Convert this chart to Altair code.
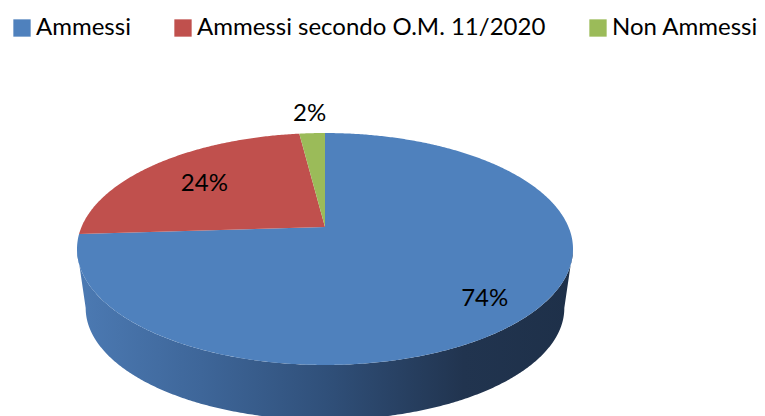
import numpy as np
import pandas as pd
import altair as alt

# ---- data ----
categories = ["Ammessi", "Ammessi secondo O.M. 11/2020", "Non Ammessi"]
percentages = [74, 24, 2]
colors = ["#4F81BD", "#C0504D", "#9BBB59"]

# ---- 3D pie projection settings (layout, not data) ----
CX, CY = 325.0, 227.0      # projected centre of the top face
AX, BY = 243.5, 111.8      # horizontal / vertical semi-axes
K = 0.1896                 # perspective strength
S_BOT = 0.965              # bottom face scale
TOP_EY, BOT_EY = 249.0, 308.0


def project(phi_deg, r=1.0):
    phi = np.radians(phi_deg)
    u = r * np.sin(phi)
    v = r * np.cos(phi)
    w = 1 + K * v
    return CX + AX * u / w, CY - BY * v / w


def bottom(x, y):
    return CX + S_BOT * (x - CX), BOT_EY + S_BOT * (y - TOP_EY)


# slices of the top face
rows = []
start = 0.0
total = float(sum(percentages))
for cat, val in zip(categories, percentages):
    a0 = start
    a1 = start + 360.0 * val / total
    angles = np.linspace(a0, a1, max(3, int((a1 - a0) / 0.5) + 2))
    i = 0
    rows.append({"cat": cat, "i": i, "x": CX, "y": CY}); i += 1
    for a in angles:
        x, y = project(a)
        rows.append({"cat": cat, "i": i, "x": x, "y": y}); i += 1
    rows.append({"cat": cat, "i": i, "x": CX, "y": CY})
    start = a1
slices = pd.DataFrame(rows)

# front wall of the cylinder
t0 = np.degrees(np.arccos(-K))
t1 = 360.0 - t0
side_angles = np.linspace(t0, t1, 320)
side_rows = []
i = 0
for a in side_angles:
    x, y = project(a)
    side_rows.append({"i": i, "x": x, "y": y}); i += 1
for a in side_angles[::-1]:
    x, y = bottom(*project(a))
    side_rows.append({"i": i, "x": x, "y": y}); i += 1
side = pd.DataFrame(side_rows)

# labels
lab_rows = []
start = 0.0
for cat, val in zip(categories, percentages):
    a1 = start + 360.0 * val / total
    mid = (start + a1) / 2
    outside = val < 5
    r = 1.25 if outside else 0.76
    x, y = project(mid, r)
    lab_rows.append({"cat": cat, "label": f"{val}%", "x": x, "y": y,
                     "pos": "out" if outside else "in"})
    start = a1
labels = pd.DataFrame(lab_rows)

H = 408
xs = alt.Scale(domain=[8, 757], nice=False, zero=False)
ys = alt.Scale(domain=[8 + H, 8], nice=False, zero=False)
X = alt.X("x:Q", scale=xs, axis=None)
Y = alt.Y("y:Q", scale=ys, axis=None)

side_fill = alt.LinearGradient(
    gradient="linear",
    stops=[
        alt.GradientStop(color="#4C7AB3", offset=0),
        alt.GradientStop(color="#3E6699", offset=0.25),
        alt.GradientStop(color="#30507A", offset=0.5),
        alt.GradientStop(color="#21344F", offset=0.78),
        alt.GradientStop(color="#1E3049", offset=1),
    ],
    x1=0, x2=1, y1=0, y2=0,
)

side_layer = alt.Chart(side).mark_line(filled=True, fill=side_fill, strokeWidth=0).encode(
    x=X, y=Y, order=alt.Order("i:Q")
)

slice_layer = alt.Chart(slices).mark_line(filled=True).encode(
    x=X, y=Y, order=alt.Order("i:Q"),
    color=alt.Color(
        "cat:N",
        scale=alt.Scale(domain=categories, range=colors),
        sort=categories,
        legend=alt.Legend(
            title=None, orient="none", legendX=2, legendY=8,
            direction="horizontal", symbolType="square", symbolSize=300,
            symbolStrokeWidth=0, labelFont="Lato", labelFontSize=24,
            labelColor="#000000", labelOffset=2, columnPadding=40,
            padding=0, labelLimit=500,
        ),
    ),
)

text_in = alt.Chart(labels).transform_filter("datum.pos == 'in'").mark_text(
    font="Lato", fontSize=24, color="#000000", dx=10, dy=7
).encode(x=X, y=Y, text="label:N")

text_out = alt.Chart(labels).transform_filter("datum.pos == 'out'").mark_text(
    font="Lato", fontSize=24, color="#000000"
).encode(x=X, y=Y, text="label:N")

chart = alt.layer(side_layer, slice_layer, text_in, text_out).properties(
    width=749, height=H, padding=0, autosize="none"
).configure_view(stroke=None)

chart.save("out.html", embed_options={"renderer": "svg", "actions": False})
